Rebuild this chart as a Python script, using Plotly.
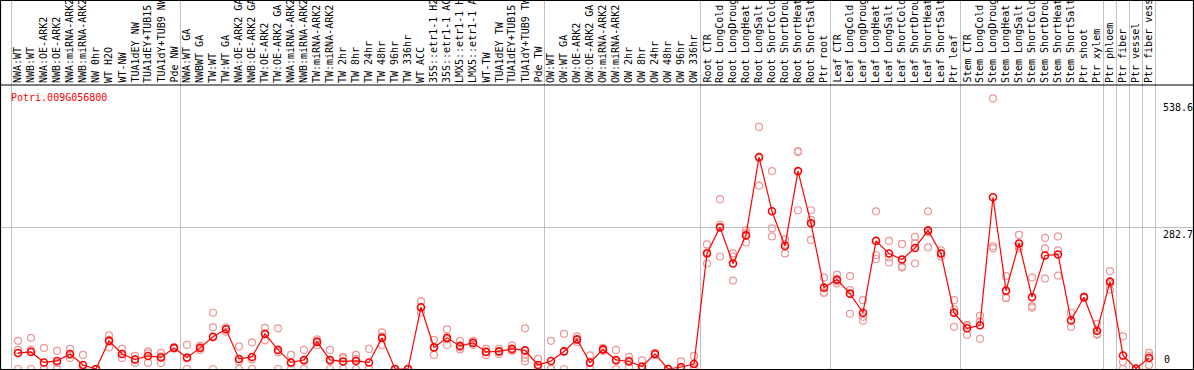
import plotly.graph_objects as go

gene = "Potri.009G056800"

labels = [
    "NWA:WT", "NWB:WT", "NWA:OE-ARK2", "NWB:OE-ARK2", "NWA:miRNA-ARK2", "NWB:miRNA-ARK2",
    "NW 0hr", "WT H2O", "WT-NW", "TUA1dEY NW", "TUA1dEY+TUB15", "TUA1dY+TUB9 NW", "Pde NW",
    "NWA:WT GA", "NWBWT GA", "TW:WT", "TW:WT GA", "NWA:OE-ARK2 GA", "NWB:OE-ARK2 GA",
    "TW:OE-ARK2", "TW:OE-ARK2 GA", "NWA:miRNA-ARK2", "NWB:miRNA-ARK2", "TW:miRNA-ARK2",
    "TW:miRNA-ARK2", "TW 2hr", "TW 8hr", "TW 24hr", "TW 48hr", "TW 96hr", "TW 336hr",
    "WT ACC", "35S::etr1-1 H2O", "35S::etr1-1 ACC", "LMX5::etr1-1 H2O", "LMX5::etr1-1 ACC",
    "WT-TW", "TUA1dEY TW", "TUA1dEY+TUB15", "TUA1dY+TUB9 TW", "Pde TW",
    "OW:WT", "OW:WT GA", "OW:OE-ARK2", "OW:OE-ARK2 GA", "OW:miRNA-ARK2", "OW:miRNA-ARK2",
    "OW 2hr", "OW 8hr", "OW 24hr", "OW 48hr", "OW 96hr", "OW 336hr",
    "Root CTR", "Root LongCold", "Root LongDrought", "Root LongHeat", "Root LongSalt",
    "Root ShortCold", "Root ShortDrought", "Root ShortHeat", "Root ShortSalt", "Ptr root",
    "Leaf CTR", "Leaf LongCold", "Leaf LongDrought", "Leaf LongHeat", "Leaf LongSalt",
    "Leaf ShortCold", "Leaf ShortDrought", "Leaf ShortHeat", "Leaf ShortSalt", "Ptr leaf",
    "Stem CTR", "Stem LongCold", "Stem LongDrought", "Stem LongHeat", "Stem LongSalt",
    "Stem ShortCold", "Stem ShortDrought", "Stem ShortHeat", "Stem ShortSalt",
    "Ptr shoot", "Ptr xylem", "Ptr phloem", "Ptr fiber", "Ptr vessel", "Ptr fiber vessel",
]

means = [
    32, 34, 13, 16, 30, 8, 0, 56, 30, 19, 26, 23, 42,
    23, 42, 64, 79, 20, 24, 70, 38, 13, 18, 54, 18, 15, 16, 13, 62, 0, 0,
    123, 43, 62, 46, 52, 34, 35, 40, 37, 8,
    16, 35, 59, 13, 39, 18, 15, 5, 30, 0, 4, 10,
    230, 282, 210, 266, 422, 314, 245, 394, 290, 162,
    178, 150, 112, 255, 230, 218, 241, 276, 230, 112,
    81, 87, 342, 156, 250, 143, 226, 228, 97,
    143, 76, 174, 27, 1, 22,
]

replicates = [
    [56, 38, 0], [62, 38, 0], [42, 0, 0], [36, 12, 0], [40, 28, 22], [28, 0, 0],
    [0, 0, 0], [67, 58, 43], [40, 30, 22], [26, 19, 12], [35, 31, 12], [32, 25, 12], [43, 42, 41],
    [48, 21, 0], [46, 42, 38], [112, 83, 0], [83, 79, 74], [45, 15, 0], [53, 19, 0],
    [82, 70, 57], [81, 33, 0], [28, 11, 0], [38, 16, 0], [59, 55, 48],
    [38, 16, 0], [24, 21, 0], [28, 20, 0], [40, 0, 0], [73, 65, 48], [0, 0, 0], [0, 0, 0],
    [135, 122, 112], [58, 43, 28], [79, 59, 48], [56, 43, 39], [56, 52, 48],
    [40, 34, 28], [40, 35, 30], [47, 37, 36], [81, 30, 22, 15], [20, 4, 0],
    [56, 0, 0], [70, 35, 0], [65, 58, 54], [27, 12, 0], [42, 39, 36], [38, 16, 0],
    [24, 17, 4], [17, 0, 0], [32, 30, 28], [0, 0, 0], [15, 0, 0], [26, 4, 0],
    [248, 232, 210], [338, 287, 224], [230, 224, 176], [276, 270, 252], [482, 420, 365],
    [394, 280, 264], [258, 248, 230], [434, 432, 316], [316, 297, 257], [182, 152, 152],
    [188, 175, 170], [185, 157, 110], [137, 104, 96], [314, 227, 219], [255, 222, 212],
    [249, 204, 202], [263, 250, 210], [314, 272, 242], [236, 230, 224], [137, 119, 84],
    [88, 86, 68], [106, 95, 60], [538.6, 244, 240], [185, 142, 141], [267, 244, 240],
    [182, 125, 122], [261, 240, 180], [264, 236, 186], [112, 96, 84],
    [144, 143, 142], [90, 70, 68], [195, 170, 158], [65, 14, 0], [0, 0, 0], [32, 26, 8],
]

# group boundaries (index of first sample after each separator)
separators = [0, 13, 41, 53, 63, 73, 84, 85, 86, 87, 88]

y_max_label = 538.6
y_mid_label = 282.7
y_top = 565.4

W, H = 1194, 370
ML, MR, MT, MB = 1, 1, 85, 1
PW, PH = W - ML - MR, H - MT - MB

def xp(px):
    return (px - ML) / PW

def yp(py):
    return (H - MB - py) / PH

FONT = "DejaVu Sans Mono"
RED = "#ff0000"
PINK = "rgb(236,150,150)"

idx = list(range(len(labels)))
rep_x, rep_y = [], []
for i, reps in enumerate(replicates):
    for v in reps:
        rep_x.append(i)
        rep_y.append(v)

fig = go.Figure()
fig.add_trace(go.Scatter(
    x=rep_x, y=rep_y, mode="markers",
    marker=dict(symbol="circle-open", size=7, color=PINK, line=dict(width=1.2, color=PINK)),
    showlegend=False, hoverinfo="skip",
))
fig.add_trace(go.Scatter(
    x=idx, y=means, mode="lines+markers",
    line=dict(color=RED, width=1.2),
    marker=dict(symbol="circle-open", size=7, color=RED, line=dict(width=1.6, color=RED)),
    showlegend=False,
))

shapes = []
for s in separators:
    shapes.append(dict(type="line", xref="x", yref="paper", x0=s - 0.5, x1=s - 0.5,
                       y0=0, y1=yp(0), line=dict(color="#c0c0c0", width=1), layer="below"))
# frame
shapes.append(dict(type="rect", xref="paper", yref="paper",
                   x0=xp(0.5), x1=xp(1193.5), y0=yp(369.5), y1=yp(0.5),
                   line=dict(color="black", width=1.2)))
shapes.append(dict(type="line", xref="paper", yref="paper",
                   x0=xp(0), x1=xp(1194), y0=yp(85), y1=yp(85),
                   line=dict(color="black", width=1.2)))

axis_font = dict(family=FONT, size=10, color="black")
annotations = [
    dict(text=gene, xref="paper", yref="paper", x=xp(9), y=yp(90), xanchor="left",
         yanchor="top", showarrow=False, font=dict(family=FONT, size=10, color=RED)),
    dict(text=f"{y_max_label}", xref="paper", yref="y", x=xp(1162), y=y_max_label,
         xanchor="left", yanchor="top", yshift=-3, showarrow=False, borderpad=0,
         font=axis_font),
    dict(text=f"{y_mid_label}", xref="paper", yref="y", x=xp(1162), y=y_mid_label,
         xanchor="left", yanchor="top", yshift=-1, showarrow=False, borderpad=0,
         font=axis_font),
    dict(text="0", xref="paper", yref="y", x=xp(1163), y=0,
         xanchor="left", yanchor="bottom", yshift=3, showarrow=False, borderpad=0,
         font=axis_font),
]
for i, lab in enumerate(labels):
    annotations.append(dict(
        text=lab, xref="x", yref="paper", x=i, y=yp(84), xanchor="center",
        yanchor="bottom", textangle=-90, showarrow=False, borderpad=0,
        font=axis_font,
    ))

fig.update_layout(
    width=W, height=H,
    margin=dict(l=ML, r=MR, t=MT, b=MB, pad=0),
    paper_bgcolor="white", plot_bgcolor="white",
    shapes=shapes, annotations=annotations,
    xaxis=dict(
        range=[-17 / 13, (W - ML - 18) / 13],
        showticklabels=False, ticks="", showgrid=False, zeroline=False, showline=False,
        fixedrange=True,
    ),
    yaxis=dict(
        range=[0, y_top], tickmode="array", tickvals=[y_mid_label],
        showticklabels=False, showgrid=True, gridcolor="#c0c0c0", gridwidth=1,
        zeroline=False, showline=False, ticks="", fixedrange=True,
    ),
    showlegend=False,
)

fig.write_html(
    "out.html",
    config={"displayModeBar": False},
    post_script="document.body.style.margin='0';document.body.style.overflow='hidden';",
)
